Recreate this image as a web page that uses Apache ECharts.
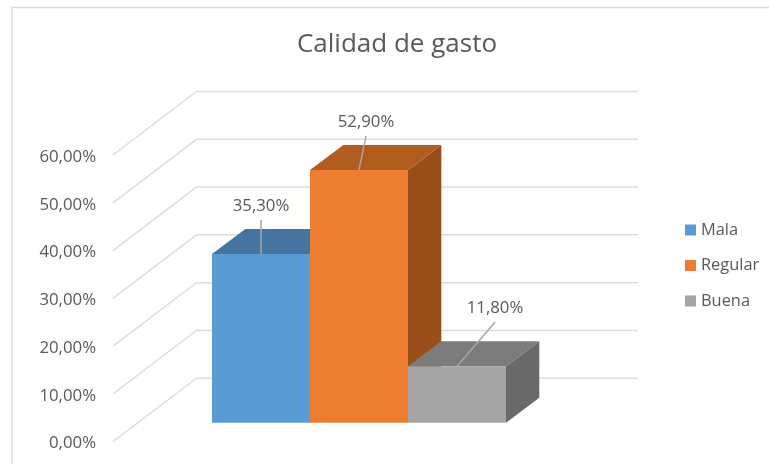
<!DOCTYPE html>
<html><head><meta charset="utf-8">
<style>html,body{margin:0;padding:0;background:#fff}#c{width:769px;height:464px}</style>
<script src="https://cdn.jsdelivr.net/npm/echarts@6/dist/echarts.min.js"></script>
</head><body><div id="c"></div>
<script>
const titleText = 'Calidad de gasto';
const categories = ['Mala', 'Regular', 'Buena'];
const values = [35.3, 52.9, 11.8];
const yTicks = [0, 10, 20, 30, 40, 50, 60];

const frontColors = ['#5B9BD5', '#ED7D31', '#A5A5A5'];
const topColors = ['#44749F', '#B15D20', '#7C7C7C'];
const sideColors = ['#3E6A92', '#9A4F1B', '#6A6A6A'];
const leaderEnd = [[0, -34], [7, -34], [38, -44]];
const labelPos = [[0, -48], [7, -48], [38, -58.5]];

const wall = { left: 113, right: 638, dx: 83.5, dy: -63.5, shiftY: -2 };
const floorShift = { x: 25.5, y: -21 };
const depth = { x: 33.3, y: -25 };
const fontFamily = '"Open Sans", sans-serif';
const fmt = v => v.toFixed(2).replace('.', ',') + '%';

const chart = echarts.init(document.getElementById('c'), null, { renderer: 'canvas' });

function renderWall(params, api) {
  const y = api.coord([0, api.value(0)])[1] + wall.shiftY;
  return {
    type: 'polyline', silent: true,
    shape: { points: [[wall.left, y], [wall.left + wall.dx, y + wall.dy], [wall.right, y + wall.dy]] },
    style: { fill: null, stroke: '#DEDEDE', lineWidth: 1.5 }
  };
}

function barRenderer(i) {
  return function (params, api) {
    const band = api.size([1, 0])[0];
    const c = api.coord([api.value(0), api.value(1)]);
    const b = api.coord([api.value(0), 0]);
    const x0 = c[0] - band / 2 + floorShift.x, x1 = x0 + band;
    const yT = c[1] + floorShift.y, yB = b[1] + floorShift.y;
    const dx = depth.x, dy = depth.y, xm = (x0 + x1) / 2;
    return {
      type: 'group',
      children: [
        { type: 'polygon', shape: { points: [[x1, yT], [x1 + dx, yT + dy], [x1 + dx, yB + dy], [x1, yB]] }, style: { fill: sideColors[i] } },
        { type: 'polygon', shape: { points: [[x0, yT], [x0 + dx, yT + dy], [x1 + dx, yT + dy], [x1, yT]] }, style: { fill: topColors[i] } },
        { type: 'rect', shape: { x: x0, y: yT, width: x1 - x0, height: yB - yT }, style: { fill: frontColors[i] } },
        { type: 'line', shape: { x1: xm, y1: yT, x2: xm + leaderEnd[i][0], y2: yT + leaderEnd[i][1] }, style: { stroke: '#A6A6A6', lineWidth: 1.5 } },
        { type: 'text', x: xm + labelPos[i][0], y: yT + labelPos[i][1],
          style: { text: fmt(api.value(1)), fill: '#595959', font: '16.8px ' + fontFamily, align: 'center', verticalAlign: 'middle' } }
      ]
    };
  };
}

chart.setOption({
  animation: false,
  backgroundColor: '#fff',
  title: { text: titleText, left: 397, top: 32, textAlign: 'center', padding: 0,
    textStyle: { color: '#595959', fontFamily: fontFamily, fontWeight: 'normal', fontSize: 26 } },
  legend: { data: categories, orient: 'vertical', left: 685, top: 222, padding: 0, itemWidth: 11, itemHeight: 11, itemGap: 19.5, itemStyle: { borderWidth: 0 }, icon: 'rect',
    selectedMode: false, textStyle: { color: '#595959', fontFamily: fontFamily, fontSize: 16.4, padding: [0, 0, 0, 0] } },
  grid: { left: 186.5, top: 157, width: 294, height: 286.7 },
  xAxis: { type: 'category', data: categories, show: false },
  yAxis: { type: 'value', min: 0, max: 60, interval: 10,
    axisLine: { show: false }, axisTick: { show: false }, splitLine: { show: false },
    axisLabel: { margin: 90.5, color: '#595959', fontFamily: fontFamily, fontSize: 16.8, formatter: fmt } },
  graphic: [{ type: 'polyline', silent: true, z: -1, shape: { points: [[12, 470], [12, 7.5], [775, 7.5]] }, style: { fill: null, stroke: '#D9D9D9', lineWidth: 1.4 } }],
  series: [
    { type: 'custom', name: 'wall', data: yTicks.map(v => [v]), encode: { y: 0 }, renderItem: renderWall, clip: false, silent: true, z: 1 },
    ...categories.map((name, i) => ({
      type: 'custom', name: name, data: [[i, values[i]]], encode: { x: 0, y: 1 },
      itemStyle: { color: frontColors[i] }, renderItem: barRenderer(i), clip: false, silent: true, z: 2
    }))
  ]
});
</script></body></html>
